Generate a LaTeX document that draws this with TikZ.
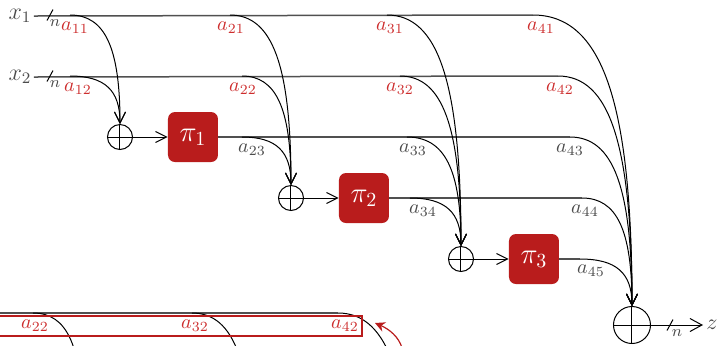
\documentclass[tikz,border=0pt]{standalone}
\usetikzlibrary{arrows.meta,calc}
\definecolor{boxred}{RGB}{185,28,28}
\definecolor{labred}{RGB}{205,45,45}
\definecolor{labgray}{RGB}{75,75,75}
\definecolor{wiregray}{RGB}{80,80,80}
% weighted tap: leaves a wire horizontally and drops vertically into a summing node
\newcommand{\tapcurve}[2]{%
  \draw[tap] (#1) .. controls ($(#1)!0.7!(#1 -| #2)$) and ($(#2)!0.7!(#1 -| #2)$) .. (#2);}
\begin{document}
\begin{tikzpicture}[x=0.5pt,y=-0.5pt,
  wire/.style={draw=wiregray,line width=0.75pt},
  barb/.style={-{Straight Barb[length=5.5pt,width=5.5pt]}},
  tap/.style={draw=black,line width=0.5pt,barb},
  perm/.style={fill=boxred,rounded corners=3.5pt,minimum size=25pt,inner sep=0pt,
    text=white,font=\fontsize{14.4}{17}\selectfont},
  sumnode/.style={circle,draw,line width=0.5pt,inner sep=0pt,minimum size=12.5pt,
    path picture={\draw[line width=0.5pt]
      (path picture bounding box.north) -- (path picture bounding box.south)
      (path picture bounding box.west) -- (path picture bounding box.east);}},
  lab/.style={inner sep=0pt,font=\fontsize{10}{12}\selectfont},
  redlab/.style={lab,text=labred},
  graylab/.style={lab,text=labgray},
  inlab/.style={inner sep=1pt,text=labgray,font=\fontsize{12}{14}\selectfont},
  nlab/.style={inner sep=0pt,text=labgray,font=\fontsize{8}{10}\selectfont},
  tick/.style={line width=0.5pt}
]
\useasboundingbox (0,0) rectangle (720,345);
\clip (0,0) rectangle (720,345);

% inputs
\node[inlab] (x1) at (20,16) {$x_1$};
\node[inlab] (x2) at (20,77) {$x_2$};

% summing nodes and permutations
\node[sumnode] (s1) at (120,137) {};
\node[sumnode] (s2) at (291,198) {};
\node[sumnode] (s3) at (461,259) {};
\node[sumnode,minimum size=18.5pt] (sf) at (632,325) {};
\node[perm] (p1) at (193,137) {$\pi_1$};
\node[perm] (p2) at (364,198) {$\pi_2$};
\node[perm] (p3) at (534,259) {$\pi_3$};
\node[inlab,inner sep=1.5pt,font=\fontsize{10.95}{13}\selectfont] (z) at (712,325) {$z$};

% tap points on the wires
\coordinate (c11) at (70,15);  \coordinate (c12) at (70,76);
\coordinate (c21) at (230,15); \coordinate (c22) at (242,76);  \coordinate (c23) at (242,137);
\coordinate (c31) at (387,15); \coordinate (c32) at (400,76);  \coordinate (c33) at (407,137);
\coordinate (c34) at (410,198);
\coordinate (c41) at (533,15); \coordinate (c42) at (558,76);  \coordinate (c43) at (570,137);
\coordinate (c44) at (582,198); \coordinate (c45) at (580,259);

% wires
\draw[wire] (x1.east) -- (c41);
\draw[wire] (x2.east) -- (c42);
\draw[wire] (p1.east) -- (c43);
\draw[wire] (p2.east) -- (c44);
\draw[wire] (p3.east) -- (c45);
\draw[line width=0.5pt,barb] (s1) -- (p1);
\draw[line width=0.5pt,barb] (s2) -- (p2);
\draw[line width=0.5pt,barb] (s3) -- (p3);
\draw[line width=0.5pt,-{Straight Barb[length=6pt,width=6.5pt]}] (sf) -- (z);

% taps
\tapcurve{c11}{s1.north} \tapcurve{c12}{s1.north}
\tapcurve{c21}{s2.north} \tapcurve{c22}{s2.north} \tapcurve{c23}{s2.north}
\tapcurve{c31}{s3.north} \tapcurve{c32}{s3.north} \tapcurve{c33}{s3.north}
\tapcurve{c34}{s3.north}
\tapcurve{c41}{sf.north} \tapcurve{c42}{sf.north} \tapcurve{c43}{sf.north}
\tapcurve{c44}{sf.north} \tapcurve{c45}{sf.north}

% width marks
\coordinate (t1) at (50,15); \coordinate (t2) at (50,76); \coordinate (t3) at (670,325);
\foreach \t in {t1,t2,t3}
  \draw[tick] ([shift={(-3,5.5)}]\t) -- ([shift={(3,-5.5)}]\t);
\node[nlab] (n1) at (55,23) {$n$};
\node[nlab] (n2) at (55,84) {$n$};
\node[nlab] (n3) at (677,333) {$n$};

% weights
\node[redlab]  (l11) at (75,28)   {$a_{11}$};
\node[redlab]  (l12) at (78,89)   {$a_{12}$};
\node[redlab]  (l21) at (231,28)  {$a_{21}$};
\node[redlab]  (l22) at (243,89)  {$a_{22}$};
\node[graylab] (l23) at (252,150) {$a_{23}$};
\node[redlab]  (l31) at (390,28)  {$a_{31}$};
\node[redlab]  (l32) at (400,89)  {$a_{32}$};
\node[graylab] (l33) at (413,150) {$a_{33}$};
\node[graylab] (l34) at (423,211) {$a_{34}$};
\node[redlab]  (l41) at (541,28)  {$a_{41}$};
\node[redlab]  (l42) at (560,89)  {$a_{42}$};
\node[graylab] (l43) at (570,150) {$a_{43}$};
\node[graylab] (l44) at (585,211) {$a_{44}$};
\node[graylab] (l45) at (591,271) {$a_{45}$};

% second copy of the x_2 row, with its weights boxed
\coordinate (w0) at (-10,313);
\coordinate (b22) at (33,313);  \coordinate (e22) at (82,423);
\coordinate (b32) at (192,313); \coordinate (e32) at (253,484);
\coordinate (b42) at (338,313); \coordinate (e42) at (412,544);
\draw[wire] (w0) -- (b42);
\tapcurve{b22}{e22} \tapcurve{b32}{e32} \tapcurve{b42}{e42}
\node[redlab] (m22) at (35,326)  {$a_{22}$};
\node[redlab] (m32) at (195,326) {$a_{32}$};
\node[redlab] (m42) at (345,326) {$a_{42}$};
\coordinate (r0) at (-5,316); \coordinate (r1) at (362,336);
\draw[boxred,line width=0.6pt] (r0) rectangle (r1);
\coordinate (q0) at (402,348); \coordinate (q1) at (375,323);
\draw[boxred,line width=0.6pt,-{Stealth[length=5pt,width=5pt]}]
  (q0) .. controls (399,337) and (389,329) .. (q1);
\end{tikzpicture}
\end{document}
